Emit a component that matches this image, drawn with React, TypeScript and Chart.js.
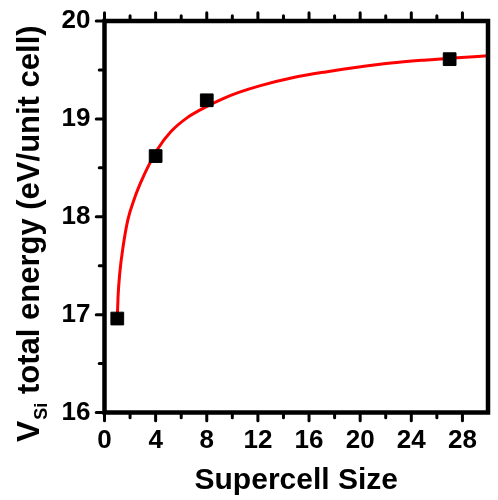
import React, { useEffect, useRef } from "react";
import { Chart, registerables } from "chart.js";

Chart.register(...registerables);

// Computed vacancy energies per supercell size
const sizes = [1, 4, 8, 27];
const energies = [16.96, 18.62, 19.19, 19.61];

// Fitted convergence curve
const fitSizes = [1, 1.06, 1.19, 1.45, 1.83, 2.35, 2.9, 3.4, 4.15, 5.2, 6.45, 7.75, 9.15, 10.5, 12.2, 14.7, 17.3, 19.9, 22.4, 25, 27.6, 30];
const fitEnergies = [16.96, 17.18, 17.42, 17.69, 17.97, 18.19, 18.37, 18.51, 18.69, 18.87, 19.01, 19.11, 19.2, 19.27, 19.34, 19.42, 19.48, 19.53, 19.57, 19.6, 19.625, 19.645];

// Axis ticks
const xMajor = [0, 4, 8, 12, 16, 20, 24, 28];
const xMinor = [2, 6, 10, 14, 18, 22, 26];
const yMajor = [16, 17, 18, 19, 20];
const yMinor = [16.5, 17.5, 18.5, 19.5];

const xTitle = "Supercell Size";
const yTitleMain = "V";
const yTitleSub = "Si";
const yTitleRest = " total energy (eV/unit cell)";

const FONT = "'Liberation Sans', Arial, sans-serif";

// Keep the plot area fixed: ignore the label overhang padding scales ask for
const noOverhang = (scale: any) => {
  scale.paddingLeft = 0;
  scale.paddingRight = 0;
  scale.paddingTop = 0;
  scale.paddingBottom = 0;
};

const framePlugin = {
  id: "frameTicks",
  afterDatasetsDraw(chart: any) {
    const { ctx, chartArea: a, scales } = chart;
    const x = scales.x;
    const y = scales.y;
    const lw = 4.5;
    const half = lw / 2;
    ctx.save();
    ctx.strokeStyle = "#000";
    ctx.lineWidth = lw;
    ctx.strokeRect(a.left, a.top, a.right - a.left, a.bottom - a.top);

    ctx.lineWidth = 3;
    ctx.lineCap = "round";
    const vtick = (px: number, len: number) => {
      ctx.beginPath();
      ctx.moveTo(px, a.bottom + half);
      ctx.lineTo(px, a.bottom + half + len);
      ctx.moveTo(px, a.top - half);
      ctx.lineTo(px, a.top - half - len);
      ctx.stroke();
    };
    const htick = (py: number, len: number) => {
      ctx.beginPath();
      ctx.moveTo(a.left - half, py);
      ctx.lineTo(a.left - half - len, py);
      ctx.stroke();
    };
    xMajor.forEach((v) => vtick(x.getPixelForValue(v), 6));
    xMinor.forEach((v) => vtick(x.getPixelForValue(v), 3));
    yMajor.forEach((v) => htick(y.getPixelForValue(v), 6));
    yMinor.forEach((v) => htick(y.getPixelForValue(v), 3));
    ctx.restore();
  },
  afterDraw(chart: any) {
    const { ctx, chartArea: a } = chart;
    ctx.save();
    ctx.fillStyle = "#000";
    ctx.textBaseline = "alphabetic";

    // x-axis title
    ctx.font = `bold 30px ${FONT}`;
    ctx.textAlign = "center";
    ctx.fillText(xTitle, (a.left + a.right) / 2, 489);

    // y-axis title with subscript
    ctx.translate(39, 442);
    ctx.rotate(-Math.PI / 2);
    ctx.textAlign = "left";
    ctx.font = `bold 32px ${FONT}`;
    ctx.fillText(yTitleMain, 0, 0);
    let off = ctx.measureText(yTitleMain).width + 1;
    ctx.font = `bold 18px ${FONT}`;
    ctx.fillText(yTitleSub, off, 8);
    off += ctx.measureText(yTitleSub).width;
    ctx.font = `bold 31px ${FONT}`;
    ctx.fillText(yTitleRest, off, 0);
    ctx.restore();
  },
};

export default function App() {
  const canvasRef = useRef<HTMLCanvasElement | null>(null);

  useEffect(() => {
    document.body.style.margin = "0";
    const canvas = canvasRef.current;
    if (!canvas) return;
    const chart = new Chart(canvas, {
      type: "scatter",
      data: {
        datasets: [
          {
            type: "line",
            data: fitSizes.map((s, i) => ({ x: s, y: fitEnergies[i] })),
            borderColor: "#ff0000",
            borderWidth: 3,
            pointRadius: 0,
            fill: false,
            cubicInterpolationMode: "monotone",
            order: 2,
          } as any,
          {
            type: "scatter",
            data: sizes.map((s, i) => ({ x: s, y: energies[i] })),
            pointStyle: "rect",
            pointRadius: 9,
            backgroundColor: "#000",
            borderColor: "#000",
            borderWidth: 1,
            order: 1,
          } as any,
        ],
      },
      options: {
        responsive: false,
        animation: false,
        devicePixelRatio: 1,
        layout: { padding: { top: 21, right: 3, left: 0, bottom: 0 } },
        plugins: {
          legend: { display: false },
          tooltip: { enabled: false },
        },
        scales: {
          x: {
            type: "linear",
            min: 0,
            max: 30,
            grid: { display: false, drawTicks: false },
            border: { display: false },
            afterBuildTicks: (scale: any) => {
              scale.ticks = xMajor.map((v) => ({ value: v }));
            },
            afterFit: (scale: any) => {
              scale.height = 87.5;
              noOverhang(scale);
            },
            ticks: {
              color: "#000",
              padding: 13,
              maxRotation: 0,
              font: { family: FONT, size: 26, weight: "bold" },
            },
          },
          y: {
            type: "linear",
            min: 16,
            max: 20,
            grid: { display: false, drawTicks: false },
            border: { display: false },
            afterBuildTicks: (scale: any) => {
              scale.ticks = yMajor.map((v) => ({ value: v }));
            },
            afterFit: (scale: any) => {
              scale.width = 104.5;
              noOverhang(scale);
            },
            ticks: {
              color: "#000",
              padding: 14,
              font: { family: FONT, size: 26, weight: "bold" },
            },
          },
        },
      },
      plugins: [framePlugin],
    });
    return () => chart.destroy();
  }, []);

  return (
    <div style={{ width: 498, height: 500, background: "#fff" }}>
      <canvas ref={canvasRef} width={498} height={500} />
    </div>
  );
}
